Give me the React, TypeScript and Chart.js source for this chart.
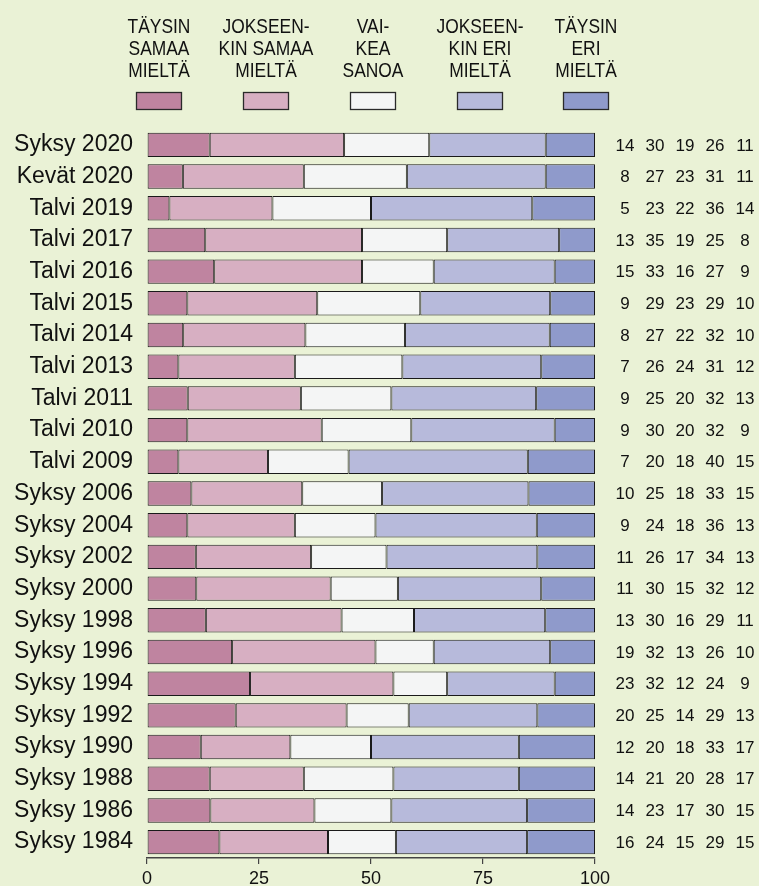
import React, { useEffect, useRef } from "react";
import { Chart, registerables } from "chart.js";

Chart.register(...registerables);

const categories = [
  "Syksy 2020", "Kevät 2020", "Talvi 2019", "Talvi 2017", "Talvi 2016", "Talvi 2015",
  "Talvi 2014", "Talvi 2013", "Talvi 2011", "Talvi 2010", "Talvi 2009", "Syksy 2006",
  "Syksy 2004", "Syksy 2002", "Syksy 2000", "Syksy 1998", "Syksy 1996", "Syksy 1994",
  "Syksy 1992", "Syksy 1990", "Syksy 1988", "Syksy 1986", "Syksy 1984",
];

const taysinSamaa = [14, 8, 5, 13, 15, 9, 8, 7, 9, 9, 7, 10, 9, 11, 11, 13, 19, 23, 20, 12, 14, 14, 16];
const jokseenkinSamaa = [30, 27, 23, 35, 33, 29, 27, 26, 25, 30, 20, 25, 24, 26, 30, 30, 32, 32, 25, 20, 21, 23, 24];
const vaikeaSanoa = [19, 23, 22, 19, 16, 23, 22, 24, 20, 20, 18, 18, 18, 17, 15, 16, 13, 12, 14, 18, 20, 17, 15];
const jokseenkinEri = [26, 31, 36, 25, 27, 29, 32, 31, 32, 32, 40, 33, 36, 34, 32, 29, 26, 24, 29, 33, 28, 30, 29];
const taysinEri = [11, 11, 14, 8, 9, 10, 10, 12, 13, 9, 15, 15, 13, 13, 12, 11, 10, 9, 13, 17, 17, 15, 15];

const seriesLabels = [
  ["TÄYSIN", "SAMAA", "MIELTÄ"],
  ["JOKSEEN-", "KIN SAMAA", "MIELTÄ"],
  ["VAI-", "KEA", "SANOA"],
  ["JOKSEEN-", "KIN ERI", "MIELTÄ"],
  ["TÄYSIN", "ERI", "MIELTÄ"],
];

const xTicks = [0, 25, 50, 75, 100];

const seriesColors = ["#bf84a0", "#d7afc2", "#f4f5f5", "#b7badb", "#8f9acb"];
const BG = "#eaf2d6";
const FONT = "'Liberation Sans', Arial, Helvetica, sans-serif";

export default function App() {
  const ref = useRef<HTMLCanvasElement | null>(null);

  useEffect(() => {
    document.body.style.margin = "0";
    document.body.style.background = BG;
    const canvas = ref.current;
    if (!canvas) return;

    const allSeries = [taysinSamaa, jokseenkinSamaa, vaikeaSanoa, jokseenkinEri, taysinEri];
    const sums = categories.map((_, i) => allSeries.reduce((a, s) => a + s[i], 0));

    const datasets = allSeries.map((s, k) => ({
      label: seriesLabels[k].join(" "),
      data: s.map((v, i) => (v / sums[i]) * 100),
      backgroundColor: seriesColors[k],
      borderColor: "#1a1a1a",
      borderWidth: 1,
      borderSkipped: false as const,
      barPercentage: 0.77,
      categoryPercentage: 1,
    }));

    const bgPlugin = {
      id: "bg",
      beforeDraw(chart: any) {
        const ctx = chart.ctx;
        ctx.save();
        ctx.fillStyle = BG;
        ctx.fillRect(0, 0, chart.width, chart.height);
        ctx.restore();
      },
    };

    const legendCenters = [159, 266, 373, 480, 586];

    const extrasPlugin = {
      id: "extras",
      afterDraw(chart: any) {
        const ctx = chart.ctx;
        const yScale = chart.scales.y;
        const area = chart.chartArea;
        ctx.save();
        // legend
        ctx.fillStyle = "#111";
        ctx.textAlign = "center";
        ctx.textBaseline = "alphabetic";
        ctx.font = `20px ${FONT}`;
        seriesLabels.forEach((lines, k) => {
          const cx = legendCenters[k];
          lines.forEach((line, j) => {
            ctx.save();
            ctx.translate(cx, 33 + j * 22);
            ctx.scale(0.87, 1);
            ctx.fillText(line, 0, 0);
            ctx.restore();
          });
          ctx.fillStyle = seriesColors[k];
          ctx.fillRect(cx - 22.5, 92.5, 45, 17);
          ctx.strokeStyle = "#2a2a2a";
          ctx.lineWidth = 1.3;
          ctx.strokeRect(cx - 22.5, 92.5, 45, 17);
          ctx.fillStyle = "#111";
        });
        // right-side numbers
        ctx.font = `17px ${FONT}`;
        ctx.textBaseline = "middle";
        ctx.fillStyle = "#111";
        categories.forEach((_, i) => {
          const y = yScale.getPixelForValue(i);
          allSeries.forEach((s, k) => {
            ctx.fillText(String(s[i]), area.right + 30 + k * 30, y + 1);
          });
        });
        ctx.restore();
      },
    };

    const chart = new Chart(canvas, {
      type: "bar",
      data: { labels: categories, datasets },
      options: {
        animation: false,
        responsive: false,
        indexAxis: "y",
        layout: { padding: { top: 129, right: 164, bottom: 0, left: 0 } },
        plugins: { legend: { display: false }, tooltip: { enabled: false } },
        scales: {
          x: {
            stacked: true,
            min: 0,
            max: 100,
            afterBuildTicks(scale: any) {
              scale.ticks = xTicks.map((v) => ({ value: v }));
            },
            afterFit(scale: any) {
              scale.height = 28;
            },
            grid: {
              display: true,
              drawOnChartArea: false,
              drawTicks: true,
              tickLength: 6,
              color: "#444",
              lineWidth: 1.2,
            },
            border: { display: true, color: "#444", width: 1.5 },
            ticks: {
              color: "#111",
              font: { family: FONT, size: 18 },
              padding: 4,
              maxRotation: 0,
            },
          },
          y: {
            stacked: true,
            afterFit(scale: any) {
              scale.width = 147;
            },
            grid: { display: false, drawTicks: false },
            border: { display: false },
            ticks: {
              color: "#111",
              font: { family: FONT, size: 23 },
              padding: 14,
              autoSkip: false,
            },
          },
        },
      },
      plugins: [bgPlugin, extrasPlugin],
    });

    return () => chart.destroy();
  }, []);

  return (
    <div style={{ width: 759, height: 886, background: BG }}>
      <canvas ref={ref} width={759} height={886} style={{ display: "block" }} />
    </div>
  );
}
